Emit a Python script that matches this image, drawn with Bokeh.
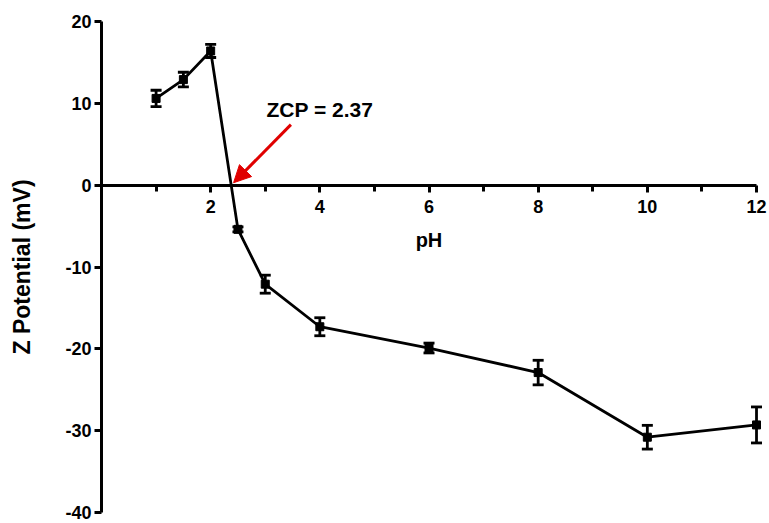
from bokeh.plotting import figure
from bokeh.models import (ColumnDataSource, FixedTicker, Whisker, TeeHead, Arrow,
                          NormalHead, Label, Range1d)
from bokeh.embed import file_html
from bokeh.resources import INLINE

# ---- data ----
ph = [1, 1.5, 2, 2.5, 3, 4, 6, 8, 10, 12]
zeta = [10.6, 12.9, 16.4, -5.4, -12.1, -17.3, -19.9, -22.9, -30.8, -29.3]
err = [1.0, 0.9, 0.8, 0.3, 1.1, 1.1, 0.6, 1.5, 1.45, 2.2]
x_major = [2, 4, 6, 8, 10, 12]
x_minor = [1, 3, 5, 7, 9, 11]
y_major = [-40, -30, -20, -10, 0, 10, 20]
y_labels = ["-40", "-30", "-20", "-10", "0", "10", "20"]
zcp = 2.37
zcp_text = "ZCP = 2.37"
arrow_start = (3.47, 7.4)
arrow_end = (zcp + 0.05, 0.3)
label_pos = (4.0, 9.3)

FONT = "Liberation Sans"

src = ColumnDataSource(dict(
    x=ph, y=zeta,
    lo=[v - e for v, e in zip(zeta, err)],
    hi=[v + e for v, e in zip(zeta, err)],
))

p = figure(width=769, height=523, output_backend="svg", toolbar_location=None,
           x_range=Range1d(0, 12.238), y_range=Range1d(-40, 20),
           min_border_left=101, min_border_right=0, min_border_top=21,
           min_border_bottom=11)
p.outline_line_color = None
p.grid.visible = False
p.background_fill_color = "white"
p.border_fill_color = "white"

# x axis crossing at y=0
xa = p.xaxis[0]
xa.fixed_location = 0
xa.bounds = (0, 12)
xa.ticker = FixedTicker(ticks=x_major, minor_ticks=x_minor)
xa.axis_label = "pH"
xa.axis_label_text_font = FONT
xa.axis_label_text_font_style = "bold"
xa.axis_label_text_font_size = "20px"
xa.axis_label_text_color = "black"
xa.axis_label_standoff = 12
xa.major_label_text_font = FONT
xa.major_label_text_font_style = "bold"
xa.major_label_text_font_size = "18px"
xa.major_label_text_color = "black"
xa.major_label_standoff = 8
xa.axis_line_width = 3
xa.major_tick_line_width = 3
xa.minor_tick_line_width = 3
xa.major_tick_in = 0
xa.major_tick_out = 7
xa.minor_tick_in = 0
xa.minor_tick_out = 6
xa.axis_line_color = "black"
xa.major_tick_line_color = "black"
xa.minor_tick_line_color = "black"

ya = p.yaxis[0]
ya.bounds = (-40, 20)
ya.ticker = FixedTicker(ticks=y_major, minor_ticks=[])
ya.major_label_overrides = {t: s for t, s in zip(y_major, y_labels)}
ya.axis_label = "Z Potential (mV)"
ya.axis_label_text_font = FONT
ya.axis_label_text_font_style = "bold"
ya.axis_label_text_font_size = "23px"
ya.axis_label_text_color = "black"
ya.axis_label_standoff = 27
ya.major_label_text_font = FONT
ya.major_label_text_font_style = "bold"
ya.major_label_text_font_size = "18px"
ya.major_label_text_color = "black"
ya.major_label_standoff = 3
ya.axis_line_width = 3
ya.major_tick_line_width = 3
ya.major_tick_in = 0
ya.major_tick_out = 7
ya.minor_tick_line_color = None
ya.axis_line_color = "black"
ya.major_tick_line_color = "black"

# data line
p.line("x", "y", source=src, line_color="black", line_width=2.8)

# error bars
wh = Whisker(source=src, base="x", lower="lo", upper="hi", line_width=2.8,
             line_color="black",
             upper_head=TeeHead(size=11, line_width=2.8, line_color="black"),
             lower_head=TeeHead(size=11, line_width=2.8, line_color="black"))
p.add_layout(wh)

p.scatter("x", "y", source=src, marker="square", size=8, color="black")

# annotation arrow + label
p.add_layout(Arrow(end=NormalHead(size=17, fill_color="#e00000", line_color="#e00000"),
                   x_start=arrow_start[0], y_start=arrow_start[1],
                   x_end=arrow_end[0], y_end=arrow_end[1],
                   line_color="#e00000", line_width=3))
p.add_layout(Label(x=label_pos[0], y=label_pos[1], text=zcp_text,
                   text_font=FONT, text_font_style="bold", text_font_size="21px",
                   text_align="center", text_baseline="middle", text_color="black"))

open("out.html", "w").write(file_html(p, INLINE))
